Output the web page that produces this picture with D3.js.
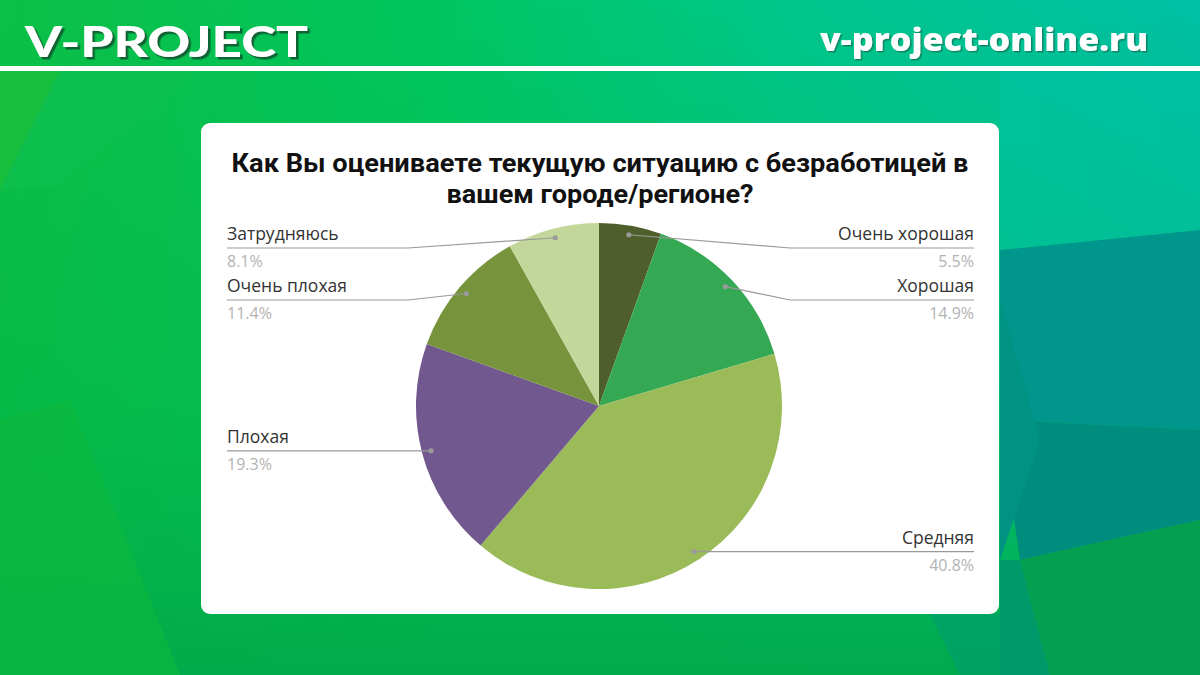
<!DOCTYPE html>
<html><head><meta charset="utf-8">
<script src="https://cdn.jsdelivr.net/npm/d3@7"></script>
<style>
html,body{margin:0;padding:0;width:1200px;height:675px;overflow:hidden;}
svg{display:block;}
</style></head>
<body>
<svg id="c" width="1200" height="675"></svg>
<script>
const categories = ["Очень хорошая","Хорошая","Средняя","Плохая","Очень плохая","Затрудняюсь"];
const values = [5.5, 14.9, 40.8, 19.3, 11.4, 8.1];
const valueLabels = ["5.5%","14.9%","40.8%","19.3%","11.4%","8.1%"];
const colors = ["#4e5f2b","#34a853","#9bbb59","#71588f","#77933c","#c4d79b"];
const titleLines = ["Как Вы оцениваете текущую ситуацию с безработицей в","вашем городе/регионе?"];
const brand = "V-PROJECT";
const site = "v-project-online.ru";

const W = 1200, H = 675;
const svg = d3.select("#c");
const defs = svg.append("defs");

// background gradients
const g1 = defs.append("linearGradient").attr("id","bg").attr("x1","0").attr("y1","0").attr("x2","1").attr("y2","0");
g1.append("stop").attr("offset","0").attr("stop-color","#0cbf45");
g1.append("stop").attr("offset","0.35").attr("stop-color","#00c65e");
g1.append("stop").attr("offset","0.65").attr("stop-color","#00c68a");
g1.append("stop").attr("offset","1").attr("stop-color","#00bfa5");
svg.append("rect").attr("width",W).attr("height",H).attr("fill","url(#bg)");
const g2 = defs.append("linearGradient").attr("id","bg2").attr("x1","0").attr("y1","0").attr("x2","0").attr("y2","1");
g2.append("stop").attr("offset","0").attr("stop-color","#03b548").attr("stop-opacity",0);
g2.append("stop").attr("offset","0.6").attr("stop-color","#03b548").attr("stop-opacity",0.5);
g2.append("stop").attr("offset","1").attr("stop-color","#02a84a").attr("stop-opacity",0.95);
svg.append("rect").attr("width",W).attr("height",H).attr("fill","url(#bg2)");

// low-poly decorative facets
const polys = [
  {p:[[0,70],[60,70],[0,190]], c:"#1bbf3c", o:0.8},
  {p:[[0,190],[60,70],[200,70],[55,190]], c:"#10c050", o:0.5},
  {p:[[0,420],[70,400],[180,675],[0,675]], c:"#0bb83d", o:0.7},
  {p:[[1000,250],[1200,230],[1200,430],[1000,420]], c:"#00968b", o:1},
  {p:[[1000,420],[1200,430],[1200,520],[1020,560]], c:"#008d7e", o:1},
  {p:[[1000,300],[1040,440],[1000,560]], c:"#009384", o:1},
  {p:[[1020,560],[1200,520],[1200,675],[1050,675]], c:"#05a04f", o:1},
  {p:[[1000,560],[1020,560],[1050,675],[1000,675]], c:"#009a6a", o:1},
  {p:[[930,614],[1000,614],[1000,675],[960,675]], c:"#00a068", o:0.8},
  {p:[[1000,70],[1200,70],[1200,230],[1000,250]], c:"#00c2a8", o:0.5}
];
svg.append("g").selectAll("polygon").data(polys).join("polygon")
  .attr("points",d=>d.p.map(q=>q.join(",")).join(" "))
  .attr("fill",d=>d.c).attr("opacity",d=>d.o);

// header
const sh = defs.append("filter").attr("id","sh").attr("x","-10%").attr("y","-30%").attr("width","130%").attr("height","160%");
sh.append("feDropShadow").attr("dx",2.5).attr("dy",2.5).attr("stdDeviation",0.4).attr("flood-color","#0c5a30").attr("flood-opacity",0.9);
const sh2 = defs.append("filter").attr("id","sh2").attr("x","-10%").attr("y","-30%").attr("width","130%").attr("height","160%");
sh2.append("feDropShadow").attr("dx",1.5).attr("dy",1.5).attr("stdDeviation",0.6).attr("flood-color","#0b5e45").attr("flood-opacity",0.6);
svg.append("text").attr("x",25).attr("y",57).text(brand).attr("filter","url(#sh)")
  .attr("font-family","Lato, 'Open Sans', sans-serif").attr("font-weight",900).attr("font-size",42)
  .attr("fill","#ffffff").attr("textLength",283).attr("lengthAdjust","spacingAndGlyphs");
svg.append("text").attr("x",1148).attr("y",51).attr("text-anchor","end").text(site).attr("filter","url(#sh2)")
  .attr("font-family","'Open Sans', Lato, sans-serif").attr("font-weight",800).attr("font-size",31)
  .attr("fill","#ffffff").attr("textLength",328).attr("lengthAdjust","spacingAndGlyphs");
svg.append("rect").attr("x",0).attr("y",66).attr("width",W).attr("height",5).attr("fill","#ffffff");

// card
const card = {x:201, y:123, w:798, h:491};
svg.append("rect").attr("x",card.x).attr("y",card.y).attr("width",card.w).attr("height",card.h)
  .attr("rx",9).attr("fill","#ffffff");

// title
const titleWidths = [737, 307];
svg.append("g").selectAll("text").data(titleLines).join("text")
  .attr("x",600).attr("y",(d,i)=>172+i*31).attr("text-anchor","middle")
  .attr("font-family","Roboto, 'Liberation Sans', sans-serif").attr("font-weight",700)
  .attr("font-size",25).attr("fill","#111")
  .attr("textLength",(d,i)=>titleWidths[i]).attr("lengthAdjust","spacingAndGlyphs")
  .text(d=>d);

// pie
const cx = 599, cy = 406, R = 183;
const data = categories.map((c,i)=>({cat:c, v:values[i], lab:valueLabels[i], col:colors[i]}));
const pie = d3.pie().value(d=>d.v).sort(null).startAngle(0).endAngle(2*Math.PI);
const arcs = pie(data);
const arc = d3.arc().innerRadius(0).outerRadius(R);
const gp = svg.append("g").attr("transform",`translate(${cx},${cy})`);
gp.selectAll("path").data(arcs).join("path").attr("d",arc).attr("fill",d=>d.data.col);

// label layout
const dotR = R*0.95;
arcs.forEach(a=>{
  const m = (a.startAngle+a.endAngle)/2;
  a.dx = cx + dotR*Math.sin(m);
  a.dy = cy - dotR*Math.cos(m);
  a.side = Math.sin(m) >= 0 ? 1 : -1;
});
const minY = 248, gap = 52;
[1,-1].forEach(s=>{
  const list = arcs.filter(a=>a.side===s).sort((a,b)=>a.dy-b.dy);
  let prev = -Infinity;
  list.forEach(a=>{
    let y = Math.max(a.dy, minY, prev+gap);
    a.ly = y; prev = y;
  });
});
const leftX = card.x+26, rightX = card.x+card.w-25;
const gl = svg.append("g");
arcs.forEach(a=>{
  const elbowX = cx + a.side*(R+8);
  const endX = a.side>0 ? rightX : leftX;
  gl.append("path")
    .attr("d",`M${endX},${a.ly}L${elbowX},${a.ly}L${a.dx},${a.dy}`)
    .attr("fill","none").attr("stroke","#999").attr("stroke-width",1.2);
  gl.append("circle").attr("cx",a.dx).attr("cy",a.dy).attr("r",2.6).attr("fill","#9a9a9a");
  gl.append("text").attr("x",endX).attr("y",a.ly-8)
    .attr("text-anchor",a.side>0?"end":"start")
    .attr("font-family","'Open Sans', 'Noto Sans', sans-serif").attr("font-size",17.5)
    .attr("fill","#333").text(a.data.cat);
  gl.append("text").attr("x",endX).attr("y",a.ly+19)
    .attr("text-anchor",a.side>0?"end":"start")
    .attr("font-family","'Open Sans', 'Noto Sans', sans-serif").attr("font-size",16)
    .attr("fill","#b3b3b3").text(a.data.lab);
});
</script>
</body></html>
